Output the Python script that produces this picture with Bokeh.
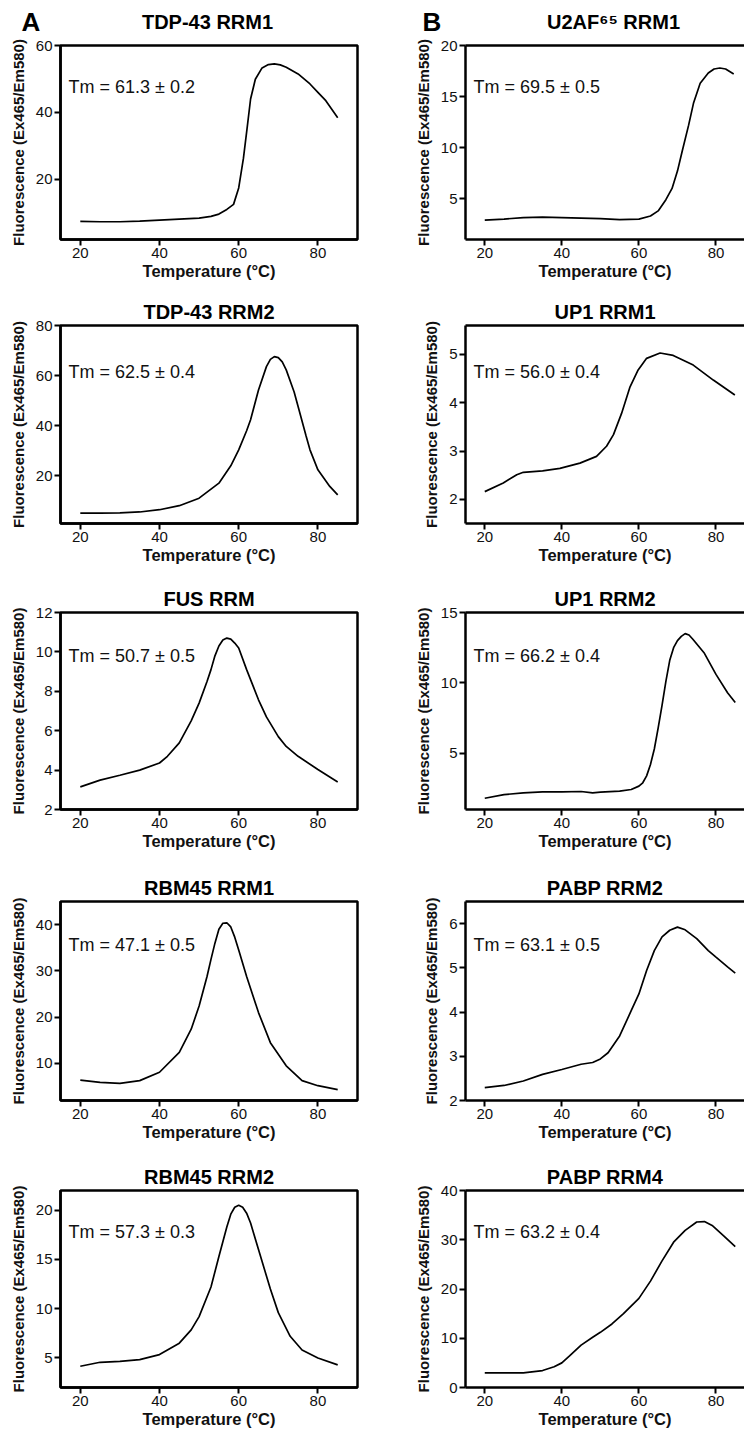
from bokeh.plotting import figure
from bokeh.models import Range1d, FixedTicker, LinearAxis, Label
from bokeh.layouts import column, row
from bokeh.core.properties import value
from bokeh.embed import file_html
from bokeh.resources import INLINE

# ---------------- data ----------------
x_ticks = [20, 40, 60, 80]

tdp1_T = [20, 25, 30, 35, 40, 45, 50, 53, 55, 57, 58.7, 60, 61.2, 62.1, 63, 64.2, 65.9, 67.5, 69, 70.5, 72, 75, 78, 80, 82, 85]
tdp1_F = [7.4, 7.3, 7.3, 7.5, 7.8, 8.1, 8.4, 8.9, 9.6, 11.0, 12.5, 17.4, 26.3, 35.1, 44.0, 49.9, 53.3, 54.3, 54.5, 54.2, 53.5, 51.5, 48.5, 46.0, 43.5, 38.4]

tdp2_T = [20, 25, 30, 35, 40, 45, 50, 55, 58, 60, 62, 63, 65, 67, 68, 69, 70, 71, 72, 74, 75, 77, 78, 80, 83, 85]
tdp2_F = [5.1, 5.1, 5.2, 5.6, 6.5, 8.1, 11.1, 17.1, 24.0, 30.4, 38.0, 42.4, 54.3, 63.6, 66.5, 67.6, 67.2, 65.5, 62.3, 53.5, 47.7, 36.0, 30.4, 22.4, 15.8, 12.4]

fus_T = [20, 25, 30, 35, 40, 42, 45, 48, 50, 52, 53, 54, 55, 56, 57, 58, 59, 60, 62, 65, 67, 70, 72, 75, 80, 85]
fus_F = [3.15, 3.49, 3.74, 4.0, 4.36, 4.7, 5.38, 6.5, 7.4, 8.5, 9.1, 9.8, 10.3, 10.6, 10.7, 10.65, 10.45, 10.2, 9.1, 7.57, 6.7, 5.7, 5.2, 4.7, 4.03, 3.4]

rbm1_T = [20, 25, 30, 35, 40, 45, 48, 50, 52, 53, 54, 55, 56, 57, 58, 59, 60, 62, 65, 68, 72, 76, 80, 85]
rbm1_F = [6.4, 5.9, 5.7, 6.3, 8.1, 12.4, 17.4, 22.4, 28.8, 32.5, 36.0, 39.0, 40.3, 40.4, 39.5, 37.3, 34.5, 28.8, 21.0, 14.5, 9.5, 6.3, 5.2, 4.35]

rbm2_T = [20, 25, 30, 35, 40, 45, 48, 50, 53, 55, 57, 58, 59, 60, 61, 62, 63, 65, 68, 70, 73, 76, 80, 85]
rbm2_F = [4.16, 4.56, 4.66, 4.83, 5.34, 6.5, 7.85, 9.2, 12.2, 15.3, 18.3, 19.6, 20.3, 20.5, 20.3, 19.7, 18.7, 16.0, 12.0, 9.6, 7.2, 5.8, 5.0, 4.3]

u2af_T = [20, 25, 30, 35, 40, 45, 50, 55, 60, 63, 65, 67, 68.6, 70, 71.2, 72.9, 74.2, 75.9, 78, 79.5, 81, 82.5, 84.6]
u2af_F = [2.9, 3.0, 3.15, 3.2, 3.15, 3.1, 3.05, 2.95, 3.0, 3.3, 3.8, 4.9, 6.0, 7.7, 9.6, 12.2, 14.4, 16.3, 17.3, 17.7, 17.8, 17.7, 17.2]

up1a_T = [20, 24.8, 28.3, 30, 35, 39.5, 44.7, 49, 51.6, 53.4, 55.5, 57.7, 59.8, 62, 65.5, 68.9, 74.1, 79.3, 84.9]
up1a_F = [2.16, 2.34, 2.51, 2.56, 2.59, 2.64, 2.75, 2.89, 3.1, 3.34, 3.78, 4.33, 4.68, 4.92, 5.03, 4.98, 4.78, 4.47, 4.16]

up1b_T = [20, 25, 30, 35, 40, 45, 48, 50, 55, 58, 60, 61, 62, 63, 64, 65, 66, 67, 68, 69, 70, 71, 72, 73, 74, 77, 80, 83, 85]
up1b_F = [1.8, 2.06, 2.18, 2.25, 2.25, 2.28, 2.18, 2.23, 2.3, 2.42, 2.66, 2.9, 3.39, 4.2, 5.3, 6.8, 8.4, 10.1, 11.6, 12.5, 13.0, 13.3, 13.5, 13.4, 13.1, 12.1, 10.6, 9.3, 8.6]

pabp2_T = [20, 25, 30, 35, 40, 45, 48, 50, 52, 55, 58, 60, 62, 64, 66, 68, 70, 72, 75, 78, 80, 83, 85]
pabp2_F = [2.29, 2.34, 2.44, 2.59, 2.70, 2.82, 2.86, 2.94, 3.08, 3.46, 4.03, 4.41, 4.94, 5.39, 5.70, 5.85, 5.92, 5.86, 5.66, 5.39, 5.24, 5.02, 4.88]

pabp4_T = [20, 25, 30, 35, 38, 40, 42, 45, 48, 50, 53, 56, 60, 63, 66, 69, 72, 75, 77, 79, 82, 85]
pabp4_F = [2.96, 2.96, 2.96, 3.44, 4.2, 5.0, 6.4, 8.6, 10.2, 11.2, 12.9, 15.0, 18.1, 21.6, 25.7, 29.5, 31.9, 33.6, 33.7, 32.9, 30.8, 28.6]

titles = ["TDP-43 RRM1", "U2AF\u2076\u2075 RRM1", "TDP-43 RRM2", "UP1 RRM1", "FUS RRM",
          "UP1 RRM2", "RBM45 RRM1", "PABP RRM2", "RBM45 RRM2", "PABP RRM4"]
tm_texts = ["Tm = 61.3 \u00b1 0.2", "Tm = 69.5 \u00b1 0.5", "Tm = 62.5 \u00b1 0.4", "Tm = 56.0 \u00b1 0.4",
            "Tm = 50.7 \u00b1 0.5", "Tm = 66.2 \u00b1 0.4", "Tm = 47.1 \u00b1 0.5", "Tm = 63.1 \u00b1 0.5",
            "Tm = 57.3 \u00b1 0.3", "Tm = 63.2 \u00b1 0.4"]
y_ticks = [[20, 40, 60], [5, 10, 15, 20], [20, 40, 60, 80], [2, 3, 4, 5], [2, 4, 6, 8, 10, 12],
           [5, 10, 15], [10, 20, 30, 40], [2, 3, 4, 5, 6], [5, 10, 15, 20], [0, 10, 20, 30, 40]]
y_limits = [(2, 60), (1, 20), (1, 80), (1.5, 5.6), (2, 12), (1, 15), (2, 45), (2, 6.5), (2, 22), (0, 40)]
series = [(tdp1_T, tdp1_F), (u2af_T, u2af_F), (tdp2_T, tdp2_F), (up1a_T, up1a_F), (fus_T, fus_F),
          (up1b_T, up1b_F), (rbm1_T, rbm1_F), (pabp2_T, pabp2_F), (rbm2_T, rbm2_F), (pabp4_T, pabp4_F)]
panel_letters = ["A", "B"]

# ---------------- layout geometry ----------------
FONT = "Liberation Sans"
HEADER_H = 36
# per row: (border_top, frame_height, border_bottom)
row_geo = [(9, 194, 51), (35, 198, 54), (35, 197, 57), (35, 199, 55), (35, 197, 47)]
col_geo = [dict(width=400, left=60, right=43, xr=(15, 90)),
           dict(width=344, left=65, right=0, xr=(15, 87.4))]
tm_dy = [-41, -46, -43, -43, -41]


def style_axis(ax):
    ax.axis_line_width = 2.5
    ax.axis_line_color = "black"
    ax.major_tick_line_width = 2
    ax.major_tick_line_color = "black"
    ax.major_tick_out = 6
    ax.major_tick_in = 0
    ax.minor_tick_line_color = None
    ax.major_label_text_font = FONT
    ax.major_label_text_font_size = "15px"
    ax.major_label_text_color = "#111111"
    ax.major_label_standoff = 2
    ax.axis_label_text_font = FONT
    ax.axis_label_text_font_style = "bold"
    ax.axis_label_text_color = "#111111"


def make_panel(i):
    r, c = divmod(i, 2)
    bt, fh, bb = row_geo[r]
    cg = col_geo[c]
    T, F = series[i]
    p = figure(width=cg["width"], height=bt + fh + bb, output_backend="svg", toolbar_location=None,
               x_range=Range1d(*cg["xr"]), y_range=Range1d(*y_limits[i]),
               min_border_left=cg["left"], min_border_right=cg["right"],
               min_border_top=bt, min_border_bottom=bb, tools="")
    p.background_fill_color = "white"
    p.border_fill_color = "white"
    p.xgrid.grid_line_color = None
    p.ygrid.grid_line_color = None
    p.line(T, F, line_color="black", line_width=1.7)

    if r > 0:
        p.title.text = titles[i]
        p.title.align = "center"
        p.title.text_font = FONT
        p.title.text_font_size = "20px"
        p.title.text_font_style = "bold"
        p.title.text_color = "black"
        p.title.standoff = 6

    style_axis(p.xaxis[0])
    style_axis(p.yaxis[0])
    p.xaxis[0].ticker = FixedTicker(ticks=x_ticks)
    p.yaxis[0].ticker = FixedTicker(ticks=y_ticks[i])
    p.xaxis[0].axis_label = "Temperature (\u00b0C)"
    p.xaxis[0].axis_label_text_font_size = "16.5px"
    p.xaxis[0].axis_label_standoff = 1
    p.yaxis[0].axis_label = "Fluorescence (Ex465/Em580)"
    p.yaxis[0].axis_label_text_font_size = "15px"
    p.yaxis[0].axis_label_standoff = 6

    if c == 0:
        p.outline_line_color = "black"
        p.outline_line_width = 2.5
        p.outline_line_alpha = 1.0
    else:
        p.outline_line_color = None
        top = LinearAxis(ticker=FixedTicker(ticks=[]), axis_line_width=2.5, axis_line_color="black",
                         major_tick_line_color=None, minor_tick_line_color=None,
                         major_tick_out=0, major_tick_in=0,
                         major_label_text_font_size="0px", major_label_standoff=0)
        p.add_layout(top, "above")

    x0 = cg["xr"][0]
    y1 = y_limits[i][1]
    p.add_layout(Label(x=x0, y=y1, x_offset=8, y_offset=tm_dy[r], text=tm_texts[i],
                       text_font=FONT, text_font_size="18px", text_color="#111111",
                       text_baseline="alphabetic"))
    return p


# header band holding the panel letters and the first-row titles
header = figure(width=744, height=HEADER_H, output_backend="svg", toolbar_location=None, tools="",
                x_range=Range1d(0, 744), y_range=Range1d(HEADER_H, 0),
                x_axis_location=None, y_axis_location=None,
                min_border_left=0, min_border_right=0, min_border_top=0, min_border_bottom=0)
header.outline_line_color = None
header.xgrid.grid_line_color = None
header.ygrid.grid_line_color = None
header.text(x=[21, 422], y=[21, 21], text=panel_letters, text_font=value(FONT), text_font_size="26px",
            text_font_style="bold", text_color="black", text_baseline="alphabetic", text_align="left")
header.text(x=[207, 613], y=[21.5, 21.5], text=[titles[0], titles[1]], text_font=value(FONT),
            text_font_size="20px", text_font_style="bold", text_color="black",
            text_baseline="alphabetic", text_align="center")

panels = [make_panel(i) for i in range(10)]
layout = column(header, *[row(panels[2 * k], panels[2 * k + 1]) for k in range(5)])

open("out.html", "w").write(file_html(layout, INLINE))
